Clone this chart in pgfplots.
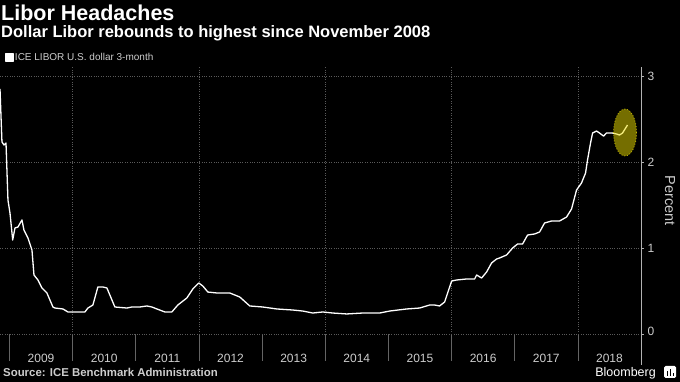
\documentclass[border=0pt]{standalone}
\usepackage{fontspec}
\setmainfont{Liberation Sans}
\usepackage{pgfplots}
\pgfplotsset{compat=1.18}
\definecolor{gridc}{RGB}{90,90,90}
\definecolor{labc}{RGB}{205,205,205}
\definecolor{tickc}{RGB}{100,100,100}
\definecolor{ellc}{RGB}{235,220,0}
\pgfplotstableread{
x y
2008.850 2.849
2008.881 2.233
2008.913 2.198
2008.945 2.221
2008.976 1.558
2009.008 1.407
2009.051 1.093
2009.087 1.233
2009.134 1.244
2009.198 1.326
2009.229 1.209
2009.293 1.116
2009.356 0.977
2009.388 0.686
2009.451 0.628
2009.514 0.535
2009.593 0.477
2009.688 0.314
2009.720 0.302
2009.847 0.291
2009.926 0.256
2010.195 0.256
2010.242 0.302
2010.321 0.337
2010.400 0.547
2010.479 0.547
2010.543 0.535
2010.669 0.314
2010.859 0.302
2010.938 0.314
2011.065 0.314
2011.176 0.326
2011.255 0.314
2011.335 0.291
2011.461 0.256
2011.571 0.256
2011.666 0.337
2011.809 0.419
2011.903 0.523
2011.998 0.593
2012.062 0.558
2012.141 0.488
2012.283 0.477
2012.489 0.477
2012.647 0.430
2012.805 0.326
2013.011 0.314
2013.233 0.291
2013.486 0.279
2013.644 0.267
2013.802 0.244
2013.960 0.256
2014.118 0.244
2014.340 0.233
2014.593 0.244
2014.862 0.244
2015.020 0.267
2015.289 0.291
2015.495 0.302
2015.653 0.337
2015.732 0.337
2015.811 0.326
2015.890 0.372
2015.938 0.477
2016.002 0.616
2016.081 0.628
2016.239 0.640
2016.366 0.640
2016.397 0.686
2016.476 0.651
2016.555 0.721
2016.634 0.826
2016.713 0.872
2016.761 0.884
2016.872 0.919
2016.967 1.000
2017.046 1.047
2017.125 1.047
2017.204 1.151
2017.315 1.163
2017.394 1.186
2017.473 1.291
2017.584 1.314
2017.710 1.314
2017.821 1.360
2017.900 1.453
2017.979 1.674
2018.058 1.756
2018.122 1.872
2018.153 2.023
2018.201 2.221
2018.233 2.337
2018.296 2.360
2018.343 2.337
2018.407 2.302
2018.454 2.337
2018.549 2.337
2018.612 2.326
2018.660 2.314
2018.707 2.337
2018.786 2.430
}\libor
\begin{document}
\begin{tikzpicture}[x=1pt,y=1pt]
\fill[black] (0,0) rectangle (680,382);
\path[use as bounding box] (0,0) rectangle (680,382);
\begin{axis}[
  at={(0pt,48pt)}, anchor=south west,
  scale only axis, width=641pt, height=267pt,
  xmin=2008.85, xmax=2019, ymin=0, ymax=3.105,
  axis x line*=bottom, axis y line*=right,
  x axis line style={draw=none},
  y axis line style={draw=white!70!black, line width=0.8pt, shorten <=-31pt, -},
  tick align=outside,
  major tick length=27pt,
  minor tick length=2.5pt,
  tick style={draw=tickc, line width=0.7pt},
  xtick={2009,2010,2011,2012,2013,2014,2015,2016,2017,2018,2019},
  xticklabels={},
  minor xtick={2010,2012,2014,2016,2018},
  xminorgrids=true,
  minor grid style={draw=gridc, dotted, line width=0.7pt},
  major grid style={draw=gridc, dotted, line width=0.7pt},
  extra x ticks={2009.5,2010.5,2011.5,2012.5,2013.5,2014.5,2015.5,2016.5,2017.5,2018.5},
  extra x tick labels={2009,2010,2011,2012,2013,2014,2015,2016,2017,2018},
  extra x tick style={major tick length=0pt, grid=none,
     tick label style={anchor=base, yshift=-29pt}},
  ytick=\empty,
  minor ytick={0.5,1.5,2.5},
  extra y ticks={0,1,2,3},
  extra y tick labels={\raisebox{5pt}{0},1,2,3},
  extra y tick style={major tick length=3pt, grid=major,
     tick style={draw=white!70!black}},
  tick label style={font=\fontsize{12}{14}\selectfont, text=labc},
  /pgf/number format/assume math mode=true,
  ylabel={Percent},
  ylabel style={at={(axis description cs:1.0452,0.5)}, anchor=center, rotate=180,
     font=\fontsize{14.5}{16}\selectfont, text=labc},
  legend style={at={(0.0078,1)}, anchor=west, yshift=9.5pt, draw=none, fill=none,
     inner sep=0pt, nodes={inner sep=1pt, text=labc, font=\fontsize{10}{12}\selectfont},
     legend cell align=left},
  legend image code/.code={\fill[white] (0pt,-3.5pt) rectangle (7.5pt,3.5pt);},
]
\addplot[white, line width=1.3pt, line join=round] table[x=x, y=y] {\libor};
\addlegendentry{ICE LIBOR U.S. dollar 3-month}
\fill[ellc, fill opacity=0.5] (axis cs:2018.747,2.343) ellipse [x radius=0.182, y radius=0.273];
\draw[ellc!85!black, dotted, line width=0.8pt] (axis cs:2018.747,2.343) ellipse [x radius=0.182, y radius=0.273];
\end{axis}
\node[anchor=base west, inner sep=0pt, text=white, font=\fontsize{21.5}{24}\selectfont\bfseries] at (1,361.3) {Libor Headaches};
\node[anchor=base west, inner sep=0pt, text=white, font=\fontsize{16.5}{19}\selectfont\bfseries] at (1,344.3) {Dollar Libor rebounds to highest since November 2008};
\node[anchor=base west, inner sep=0pt, text=labc, font=\fontsize{11.4}{13}\selectfont\bfseries] at (3,5) {Source: ICE Benchmark Administration};
\node[anchor=base east, inner sep=0pt, text=white, font=\fontsize{12.5}{14}\selectfont] at (656,5) {Bloomberg};
\fill[white, rounded corners=1.5pt] (664,4) rectangle (676,16);
\fill[black] (666.5,6) rectangle (668,11);
\fill[black] (669.5,6) rectangle (671,13);
\fill[black] (672.5,6) rectangle (674,9);
\end{tikzpicture}
\end{document}
